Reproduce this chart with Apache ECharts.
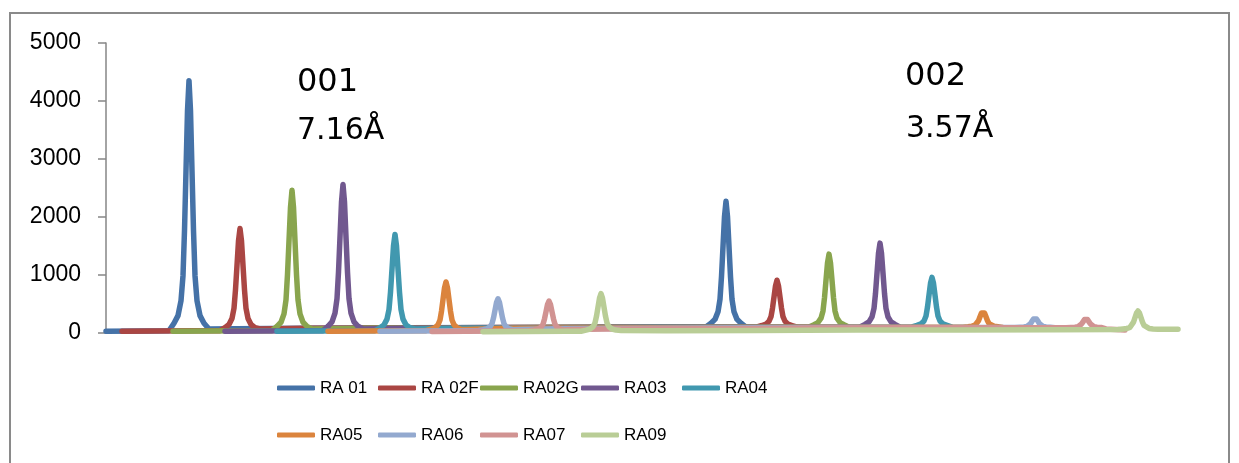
<!DOCTYPE html>
<html>
<head>
<meta charset="utf-8">
<script src="https://cdn.jsdelivr.net/npm/echarts@6/dist/echarts.min.js"></script>
<style>
html,body{margin:0;padding:0;background:#fff;}
#chart{width:1239px;height:463px;}
</style>
</head>
<body>
<div id="chart"></div>
<script>
// ---- data (x = scan step index on a hidden axis, y = intensity) ----
const seriesNames = ['RA 01', 'RA 02F', 'RA02G', 'RA03', 'RA04', 'RA05', 'RA06', 'RA07', 'RA09'];
const yTicks = [0, 1000, 2000, 3000, 4000, 5000];
const peakLabels = ['001', '7.16Å', '002', '3.57Å'];

const ra01 = [[0,30],[40,35],[63,40],[68,169],[72,299],[75,557],[77,988],[78.5,1764],[80,2798],[81.5,3833],[83,4350],[84.5,3833],[86,2798],[87.5,1764],[89,988],[91,557],[94,299],[98,169],[103,70],
  [130,75],[200,80],[300,90],[400,95],[500,100],[600,105],
  [605,170],[609,235],[612,365],[614,581],[615.5,971],[617,1491],[618.5,2010],[620,2270],[621.5,2010],[623,1491],[624.5,971],[626,581],[628,365],[631,235],[635,170],[640,100],[658,95]];
const ra02f = [[16,30],[50,35],[90,38],[114,40],[119,93],[123,146],[126,251],[128,427],[129.5,744],[131,1166],[132.5,1589],[134,1800],[135.5,1589],[137,1166],[138.5,744],[140,427],[142,251],[145,146],[149,93],[154,70],
  [200,80],[300,85],[400,95],[500,100],[600,100],[651,105],
  [656,129],[660,153],[663,202],[665,282],[666.5,427],[668,620],[669.5,813],[671,910],[672.5,813],[674,620],[675.5,427],[677,282],[679,202],[682,153],[686,129],[691,100],[709,95]];
const ra02g = [[67,30],[100,35],[140,38],[166,40],[171,113],[175,185],[178,330],[180,572],[181.5,1008],[183,1589],[184.5,2170],[186,2460],[187.5,2170],[189,1589],[190.5,1008],[192,572],[194,330],[197,185],[201,113],[206,70],
  [260,80],[350,85],[450,95],[550,100],[650,100],[703,105],
  [708,143],[712,180],[715,256],[717,381],[718.5,607],[720,908],[721.5,1209],[723,1360],[724.5,1209],[726,908],[727.5,607],[729,381],[731,256],[734,180],[738,143],[743,100],[760,95]];
const ra03 = [[119,30],[160,35],[200,38],[217,40],[222,116],[226,191],[229,342],[231,594],[232.5,1048],[234,1653],[235.5,2258],[237,2560],[238.5,2258],[240,1653],[241.5,1048],[243,594],[245,342],[248,191],[252,116],[257,70],
  [300,80],[400,85],[500,95],[600,100],[700,100],[754,105],
  [759,148],[763,192],[766,278],[768,423],[769.5,683],[771,1030],[772.5,1377],[774,1550],[775.5,1377],[777,1030],[778.5,683],[780,423],[782,278],[785,192],[789,148],[794,100],[812,95]];
const ra04 = [[171,30],[210,35],[250,38],[269,40],[274,90],[278,140],[281,239],[283,405],[284.5,704],[286,1102],[287.5,1501],[289,1700],[290.5,1501],[292,1102],[293.5,704],[295,405],[297,239],[300,140],[304,90],[309,70],
  [350,80],[450,85],[550,95],[650,100],[750,100],[806,105],
  [811,131],[815,156],[818,208],[820,293],[821.5,447],[823,652],[824.5,857],[826,960],[827.5,857],[829,652],[830.5,447],[832,293],[834,208],[837,156],[841,131],[846,100],[864,95]];
const ra05 = [[222,30],[260,35],[300,38],[320,40],[325,65],[329,90],[332,141],[334,225],[335.5,376],[337,578],[338.5,779],[340,880],[341.5,779],[343,578],[344.5,376],[346,225],[348,141],[351,90],[355,65],[360,60],
  [400,80],[500,85],[600,95],[700,100],[800,100],[857,100],
  [862,108],[866,117],[869,134],[871,162],[872.5,212],[874,279],[875.5,346],[877,380],[878.5,346],[880,279],[881.5,212],[883,162],[885,134],[888,117],[892,108],[897,95],[915,90]];
const ra06 = [[274,30],[310,35],[350,38],[372,40],[377,57],[381,73],[384,106],[386,161],[387.5,260],[389,392],[390.5,524],[392,590],[393.5,524],[395,392],[396.5,260],[398,161],[400,106],[403,73],[407,57],[412,60],
  [450,75],[550,80],[650,90],[750,95],[850,95],[909,95],
  [914,100],[918,105],[921,115],[923,131],[924.5,161],[926,201],[927.5,240],[929,260],[930.5,240],[932,201],[933.5,161],[935,131],[937,115],[940,105],[944,100],[949,90],[967,85]];
const ra07 = [[326,25],[360,30],[400,35],[423,38],[428,53],[432,69],[435,99],[437,151],[438.5,243],[440,366],[441.5,489],[443,550],[444.5,489],[446,366],[447.5,243],[449,151],[451,99],[454,69],[458,53],[463,60],
  [500,70],[600,75],[700,85],[800,90],[900,90],[960,90],
  [965,95],[969,100],[972,109],[974,125],[975.5,154],[977,192],[978.5,231],[980,250],[981.5,231],[983,192],[984.5,154],[986,125],[988,109],[991,100],[995,95],[1000,70],[1019,50]];
const ra09 = [[377,20],[420,25],[460,30],[475,30],[480,50],[484,69],[487,108],[489,173],[490.5,290],[492,446],[493.5,602],[495,680],[496.5,602],[498,446],[499.5,290],[501,173],[503,108],[506,69],[510,50],[515,45],
  [560,40],[650,45],[750,50],[850,50],[950,55],[1012,60],
  [1017,70],[1021,79],[1024,98],[1026,130],[1027.5,188],[1029,265],[1030.5,342],[1032,380],[1033.5,342],[1035,265],[1036.5,188],[1038,130],[1040,98],[1043,79],[1047,70],[1052,65],[1072,65]];

const seriesData = [ra01, ra02f, ra02g, ra03, ra04, ra05, ra06, ra07, ra09];

// ---- styles ----
const colors = ['#4572A7', '#AA4643', '#89A54E', '#71588F', '#4198AF', '#DB843D', '#93A9CF', '#D19392', '#B9CD96'];
const legendLefts = [277, 378, 480, 581, 682];
const legendTops = [378, 425];

const chart = echarts.init(document.getElementById('chart'), null, {renderer: 'canvas'});

const legends = seriesNames.map((n, i) => ({
  data: [n],
  left: legendLefts[i % 5],
  top: legendTops[Math.floor(i / 5)],
  icon: 'roundRect',
  itemWidth: 38,
  itemHeight: 5,
  itemGap: 5,
  padding: 0,
  textStyle: {fontFamily: 'Liberation Sans', fontSize: 17, color: '#000', lineHeight: 20}
}));

const option = {
  animation: false,
  backgroundColor: '#fff',
  color: colors,
  legend: legends,
  grid: {left: 106, right: 59, top: 43, bottom: 130, containLabel: false},
  xAxis: {type: 'value', min: 0, max: 1074, show: false},
  yAxis: {
    type: 'value', min: yTicks[0], max: yTicks[yTicks.length - 1], interval: 1000,
    axisLine: {show: true, lineStyle: {color: '#868686', width: 1.5}},
    axisTick: {show: true, length: 8, lineStyle: {color: '#868686', width: 1.5}},
    splitLine: {show: false},
    axisLabel: {fontFamily: 'Liberation Sans', fontSize: 23, color: '#000', margin: 25, formatter: v => String(v)}
  },
  series: seriesNames.map((n, i) => ({
    name: n,
    type: 'line',
    data: seriesData[i],
    showSymbol: false,
    symbol: 'none',
    smooth: false,
    lineStyle: {width: 5.5, color: colors[i], cap: 'round', join: 'round'},
    itemStyle: {color: colors[i]}
  })),
  graphic: [
    {type: 'rect', shape: {x: 10, y: 13, width: 1219, height: 480}, style: {fill: 'none', stroke: '#8a8a8a', lineWidth: 2}, silent: true, z: -10},
    {type: 'text', x: 297, y: 83, style: {text: peakLabels[0], font: '32px "DejaVu Sans"', fill: '#000', textVerticalAlign: 'middle'}},
    {type: 'text', x: 297, y: 131, style: {text: peakLabels[1], font: '30px "DejaVu Sans"', fill: '#000', textVerticalAlign: 'middle'}},
    {type: 'text', x: 905, y: 77, style: {text: peakLabels[2], font: '32px "DejaVu Sans"', fill: '#000', textVerticalAlign: 'middle'}},
    {type: 'text', x: 906, y: 129, style: {text: peakLabels[3], font: '30px "DejaVu Sans"', fill: '#000', textVerticalAlign: 'middle'}}
  ]
};
chart.setOption(option);
</script>
</body>
</html>
